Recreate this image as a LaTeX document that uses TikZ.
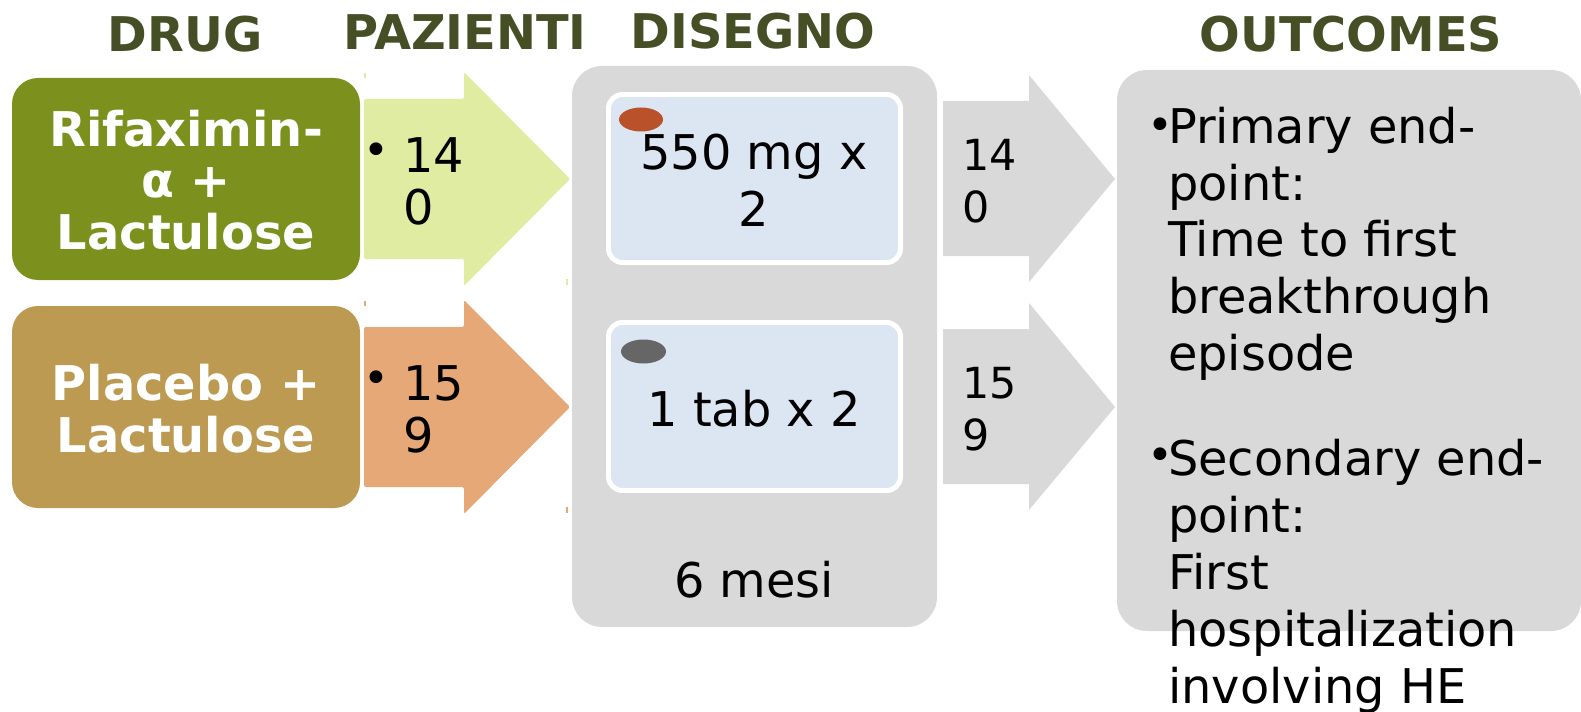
\documentclass[tikz,border=0pt]{standalone}
\usepackage{fontspec}
\setmainfont{DejaVu Sans}
\usetikzlibrary{calc}
\definecolor{headc}{HTML}{464E26}
\definecolor{olive}{HTML}{7C911D}
\definecolor{tan}{HTML}{BC9A52}
\definecolor{lime}{HTML}{DFECA2}
\definecolor{salmon}{HTML}{E6A876}
\definecolor{panel}{HTML}{D9D9D9}
\definecolor{dose}{HTML}{DCE6F2}
\definecolor{pillred}{HTML}{B9522B}
\definecolor{pillgrey}{HTML}{666666}
\tikzset{
 x=1bp,y=-1bp,
 head/.style={anchor=base,text=headc,font=\fontsize{48}{48}\selectfont\bfseries,inner sep=0pt},
 drugtext/.style={anchor=center,align=center,text=white,inner sep=0pt,font=\fontsize{48}{52}\selectfont\bfseries},
 panelbox/.style={fill=panel,rounded corners=30bp},
 dosebox/.style={fill=dose,draw=white,line width=5pt,rounded corners=14bp},
 body/.style={anchor=base west,align=left,inner sep=0pt,font=\fontsize{48}{57}\selectfont},
 dosetext/.style={anchor=center,align=center,inner sep=0pt,font=\fontsize{48}{57}\selectfont},
 numtext/.style={anchor=base west,align=left,inner sep=0pt,font=\fontsize{48}{52}\selectfont},
 numsmall/.style={anchor=base west,align=left,inner sep=0pt,font=\fontsize{43}{52}\selectfont},
 bulb/.style={anchor=base,inner sep=0pt,font=\fontsize{44}{44}\selectfont},
 speck/.style={line width=1.5pt},
}
\begin{document}
\begin{tikzpicture}
\useasboundingbox (0,0) rectangle (1581,712);
\node[head] (h1) at (185,52) {DRUG};
\node[head] (h2) at (465,50) {PAZIENTI};
\node[head] (h3) at (753,49) {DISEGNO};
\node[head] (h4) at (1351,52) {OUTCOMES};
% drug boxes
\path[fill=olive,rounded corners=26bp] (12,78) rectangle (360,280);
\node[drugtext] (d1) at (186,180) {Rifaximin-\\α +\\Lactulose};
\path[fill=tan,rounded corners=26bp] (12,306) rectangle (360,508);
\node[drugtext] (d2) at (186,408.5) {Placebo +\\Lactulose};
% big arrows
\path[fill=lime,rounded corners=2bp] (364,99) -- (464,99) -- (464,72) -- (570,179) -- (464,286) -- (464,259) -- (364,259) -- cycle;
\path[fill=salmon,rounded corners=2bp] (364,327) -- (464,327) -- (464,300) -- (570,407) -- (464,514) -- (464,487) -- (364,487) -- cycle;
\draw[speck,lime] (365,73) -- (365,78);
\draw[speck,lime] (567,279) -- (567,285);
\draw[speck,salmon] (365,301) -- (365,306);
\draw[speck,salmon] (567,507) -- (567,513);
\node[bulb] (b1) at (376,165.5) {•};
\node[numtext] (n1) at (403,224) {14\\0};
\node[bulb] (b2) at (376,393.5) {•};
\node[numtext] (n2) at (403,452.5) {15\\9};
% middle panel
\path[panelbox] (572,66) rectangle (937,627);
\path[dosebox] (608.5,94.5) rectangle (900.5,262.5);
\path[dosebox] (608.5,322.5) rectangle (900.5,490.5);
\path[fill=pillred] (641,119.5) ellipse [x radius=22, y radius=12];
\path[fill=pillgrey] (643.5,351.5) ellipse [x radius=22.5, y radius=12];
\node[dosetext] (t1) at (754,180.5) {550 mg x\\2};
\node[dosetext] (t2) at (754,409) {1 tab x 2};
\node[dosetext] (t3) at (754,579.5) {6 mesi};
% small arrows
\path[fill=panel] (943,101) -- (1029,101) -- (1029,75) -- (1115,179) -- (1029,282) -- (1029,256) -- (943,256) -- cycle;
\path[fill=panel] (943,329) -- (1029,329) -- (1029,303) -- (1115,407) -- (1029,510) -- (1029,484) -- (943,484) -- cycle;
\node[numsmall] (n3) at (962,222) {14\\0};
\node[numsmall] (n4) at (962,450) {15\\9};
% outcomes
\path[panelbox] (1117,70) rectangle (1581,631);
\node[bulb] (b3) at (1160,140.5) {•};
\node[body] (o1) at (1168,370.5) {Primary end-\\point:\\Time to first\\breakthrough\\episode};
\node[bulb] (b4) at (1160,470.5) {•};
\node[body] (o2) at (1168,703) {Secondary end-\\point:\\First\\hospitalization\\involving HE};
\end{tikzpicture}
\end{document}
